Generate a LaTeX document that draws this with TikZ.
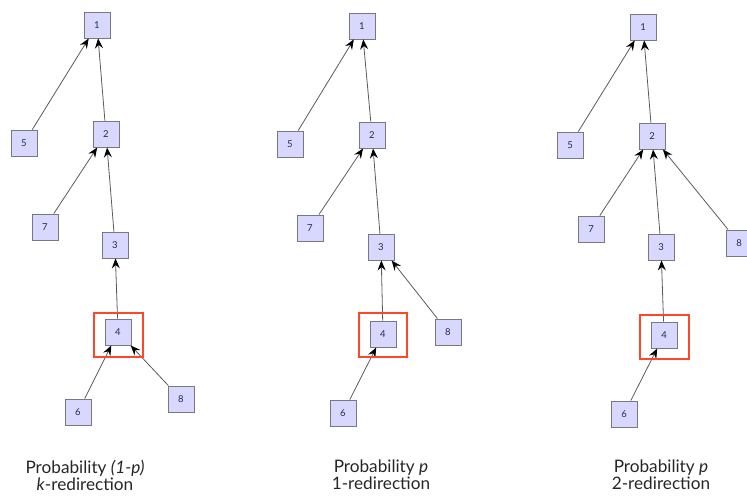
\documentclass[tikz,border=0pt]{standalone}
\usepackage{fontspec}
\setmainfont{Lato}
\usetikzlibrary{arrows.meta}
\definecolor{boxfill}{RGB}{216,216,255}
\definecolor{boxdraw}{RGB}{120,120,130}
\definecolor{numcol}{RGB}{40,40,80}
\definecolor{edgecol}{RGB}{90,90,90}
\definecolor{hilite}{RGB}{255,70,40}
\tikzset{
  vbox/.style={draw=boxdraw, fill=boxfill, line width=0.9pt, minimum size=26pt, inner sep=0pt, text=numcol, font=\fontsize{9.5}{9.5}\selectfont},
  conn/.style={draw=edgecol, line width=0.8pt, -{Stealth[length=10pt, width=8pt, inset=3.5pt, black]}},
  redline/.style={draw=hilite, line width=1.6pt},
  capt/.style={font=\fontsize{17.2}{17}\selectfont, align=center, anchor=north, inner sep=0pt, text=black!85}
}
\begin{document}
\begin{tikzpicture}[x=1pt, y=-1pt]
\useasboundingbox (0,0) rectangle (747,499);
% ---------- Panel 1 ----------
\node[vbox] (a1) at (97,25) {1};
\node[vbox] (a5) at (24,143) {5};
\node[vbox] (a2) at (106,134) {2};
\node[vbox] (a7) at (45,227) {7};
\node[vbox] (a3) at (115,245) {3};
\node[vbox] (a4) at (118,332) {4};
\node[vbox] (a6) at (78,412) {6};
\node[vbox] (a8) at (181,399) {8};
\draw[conn] (a5) -- (a1);
\draw[conn] (a2) -- (a1);
\draw[conn] (a7) -- (a2);
\draw[conn] (a3) -- (a2);
\draw[conn] (a4) -- (a3);
\draw[conn] (a6) -- (a4);
\draw[conn] (a8) -- (a4);
\draw[redline] (94,313) rectangle (143,357);
\node[capt] (c1) at (85,460) {Probability \textit{(1-p)}\\\textit{k}-redirection};
% ---------- Panel 2 ----------
\node[vbox] (b1) at (362,26) {1};
\node[vbox] (b5) at (290,144) {5};
\node[vbox] (b2) at (372,135) {2};
\node[vbox] (b7) at (310,228) {7};
\node[vbox] (b3) at (381,247) {3};
\node[vbox] (b4) at (383,334) {4};
\node[vbox] (b6) at (343,413) {6};
\node[vbox] (b8) at (448,332) {8};
\draw[conn] (b5) -- (b1);
\draw[conn] (b2) -- (b1);
\draw[conn] (b7) -- (b2);
\draw[conn] (b3) -- (b2);
\draw[conn] (b4) -- (b3);
\draw[conn] (b8) -- (b3);
\draw[conn] (b6) -- (b4);
\draw[redline] (359,313) rectangle (407,357);
\node[capt] (c2) at (381,460) {Probability \textit{p}\\1-redirection};
% ---------- Panel 3 ----------
\node[vbox] (d1) at (643,27) {1};
\node[vbox] (d5) at (570,145) {5};
\node[vbox] (d2) at (652,136) {2};
\node[vbox] (d7) at (591,229) {7};
\node[vbox] (d3) at (661,247) {3};
\node[vbox] (d4) at (664,335) {4};
\node[vbox] (d6) at (624,414) {6};
\node[vbox] (d8) at (739,243) {8};
\draw[conn] (d5) -- (d1);
\draw[conn] (d2) -- (d1);
\draw[conn] (d7) -- (d2);
\draw[conn] (d3) -- (d2);
\draw[conn] (d8) -- (d2);
\draw[conn] (d4) -- (d3);
\draw[conn] (d6) -- (d4);
\draw[redline] (640,315) rectangle (689,359);
\node[capt] (c3) at (661,460) {Probability \textit{p}\\2-redirection};
\end{tikzpicture}
\end{document}
